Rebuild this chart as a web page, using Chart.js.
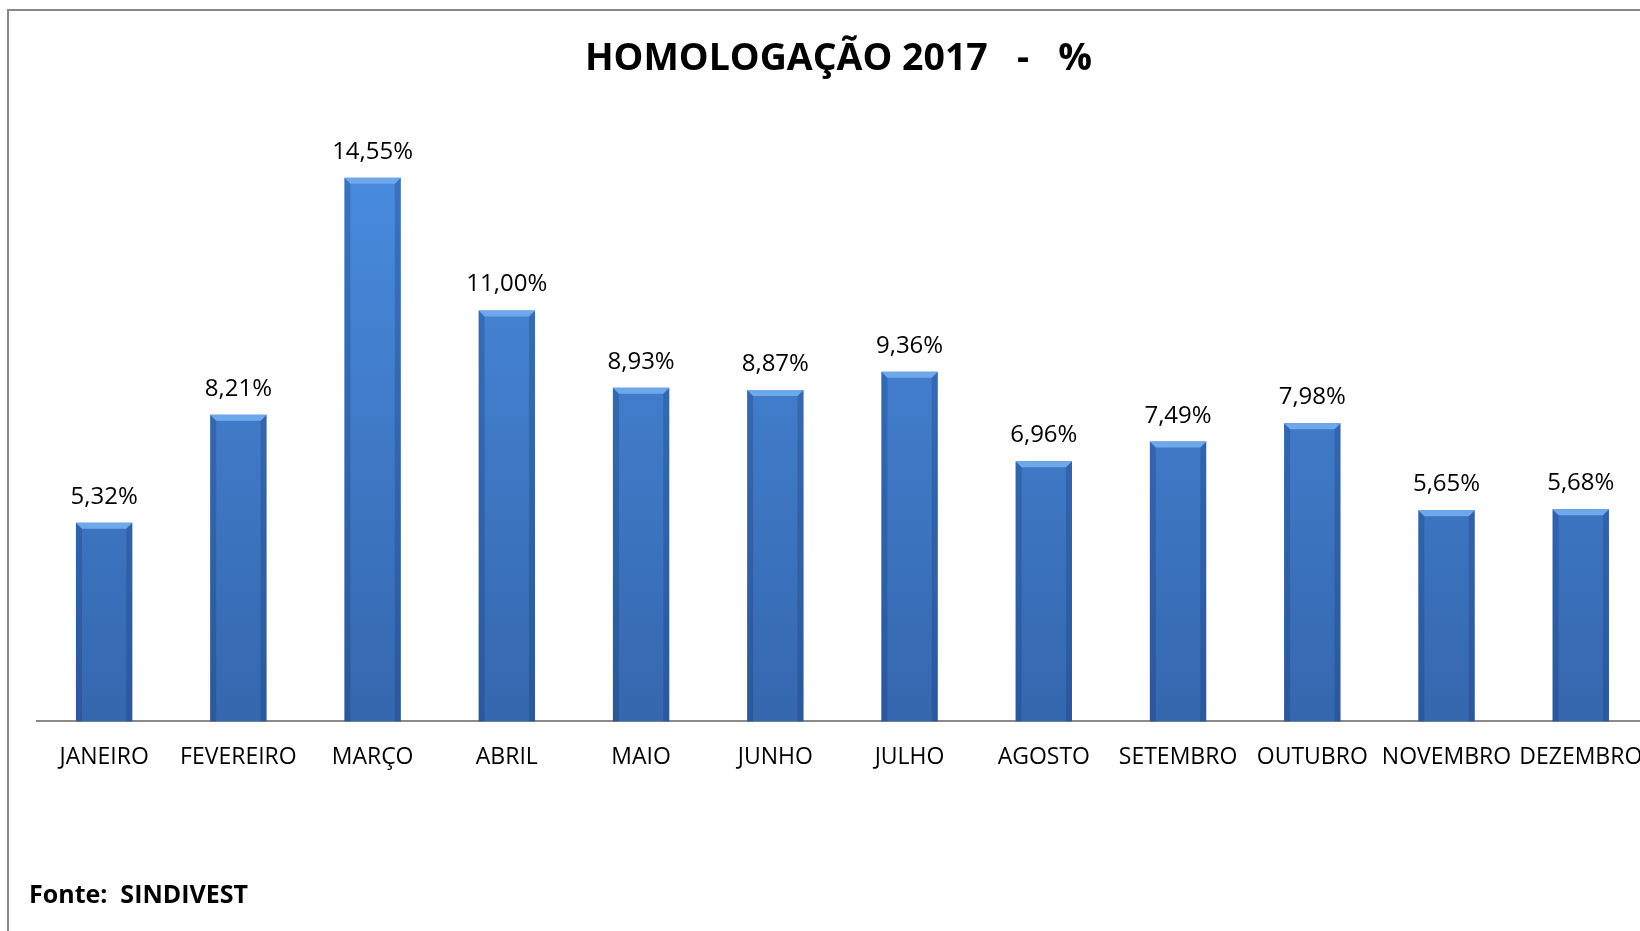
<!DOCTYPE html>
<html>
<head>
<meta charset="utf-8">
<script src="https://cdn.jsdelivr.net/npm/chart.js@4"></script>
<style>
  html, body { margin: 0; padding: 0; background: #fff; overflow: hidden; width: 1640px; height: 931px; }
  #frame { position: absolute; left: 7px; top: 9px; width: 1700px; height: 1000px; border: 2px solid #878787; }
  #homologChart { position: absolute; left: 0; top: 0; }
</style>
</head>
<body>
<div id="frame"></div>
<canvas id="homologChart" width="1665" height="931"></canvas>
<script>
const months = ['JANEIRO', 'FEVEREIRO', 'MARÇO', 'ABRIL', 'MAIO', 'JUNHO',
	'JULHO', 'AGOSTO', 'SETEMBRO', 'OUTUBRO', 'NOVEMBRO', 'DEZEMBRO'];
const percents = [5.32, 8.21, 14.55, 11.00, 8.93, 8.87, 9.36, 6.96, 7.49, 7.98, 5.65, 5.68];
const yMax = 16;

const fmt = v => v.toFixed(2).replace('.', ',') + '%';

// value labels over the bars
const valueLabels = {
	id: 'valueLabels',
	afterDatasetsDraw(chart) {
		const ctx = chart.ctx;
		const meta = chart.getDatasetMeta(0);
		ctx.save();
		ctx.font = '24px "Open Sans"';
		ctx.fillStyle = '#000';
		ctx.textAlign = 'center';
		ctx.textBaseline = 'alphabetic';
		meta.data.forEach((bar, i) => {
			ctx.fillText(fmt(percents[i]), bar.x, bar.y - 19);
		});
		ctx.restore();
	}
};

// bevel look of the excel bars
const bevel = {
	id: 'bevel',
	afterDatasetsDraw(chart) {
		const ctx = chart.ctx;
		const meta = chart.getDatasetMeta(0);
		ctx.save();
		meta.data.forEach(bar => {
			const l = bar.x - bar.width / 2, r = bar.x + bar.width / 2;
			const t = bar.y, b = bar.base, d = 6;
			ctx.fillStyle = 'rgba(15,45,100,0.25)';
			ctx.beginPath();
			ctx.moveTo(l, t); ctx.lineTo(l + d, t + d); ctx.lineTo(l + d, b); ctx.lineTo(l, b);
			ctx.fill();
			ctx.beginPath();
			ctx.moveTo(r, t); ctx.lineTo(r - d, t + d); ctx.lineTo(r - d, b); ctx.lineTo(r, b);
			ctx.fill();
			ctx.fillStyle = '#6fa8ea';
			ctx.beginPath();
			ctx.moveTo(l, t); ctx.lineTo(r, t); ctx.lineTo(r - d, t + d); ctx.lineTo(l + d, t + d);
			ctx.fill();
		});
		ctx.restore();
	}
};

const ctx1 = document.getElementById('homologChart').getContext('2d');
new Chart(ctx1, {
	type: 'bar',
	data: {
		labels: months,
		datasets: [{
			label: 'Homologação 2017 (%)',
			data: percents,
			barPercentage: 0.42,
			categoryPercentage: 1,
			borderWidth: 0,
			backgroundColor: (c) => {
				const area = c.chart.chartArea;
				if (!area) return '#3c7dd2';
				const g = c.chart.ctx.createLinearGradient(0, area.top, 0, area.bottom);
				g.addColorStop(0, '#4a8ee2');
				g.addColorStop(1, '#3567ae');
				return g;
			}
		}]
	},
	options: {
		responsive: false,
		animation: false,
		layout: { padding: { left: 29, right: 17, top: 0, bottom: 0 } },
		plugins: {
			legend: { display: false },
			tooltip: { enabled: false },
			title: {
				display: true,
				text: 'HOMOLOGAÇÃO 2017   -   %',
				color: '#000',
				font: { family: '"Open Sans"', size: 37.5, weight: 'bold', lineHeight: 1.2 },
				padding: { top: 37, bottom: 41.6 }
			},
			subtitle: {
				display: true,
				position: 'bottom',
				align: 'start',
				text: 'Fonte:  SINDIVEST',
				color: '#000',
				font: { family: '"Open Sans"', size: 25, weight: 'bold', lineHeight: 1.2 },
				padding: { top: 88, bottom: 20 }
			}
		},
		scales: {
			x: {
				grid: { display: false, drawTicks: false },
				border: { display: true, color: '#8a8a8a', width: 2 },
				ticks: { color: '#000', font: { family: '"Open Sans"', size: 23 }, padding: 22, maxRotation: 0, autoSkip: false }
			},
			y: {
				min: 0,
				max: yMax,
				grid: { display: false, drawTicks: false },
				border: { display: false },
				ticks: { display: false },
				afterFit: s => { s.width = 8; }
			}
		}
	},
	plugins: [valueLabels, bevel]
});
</script>
</body>
</html>
